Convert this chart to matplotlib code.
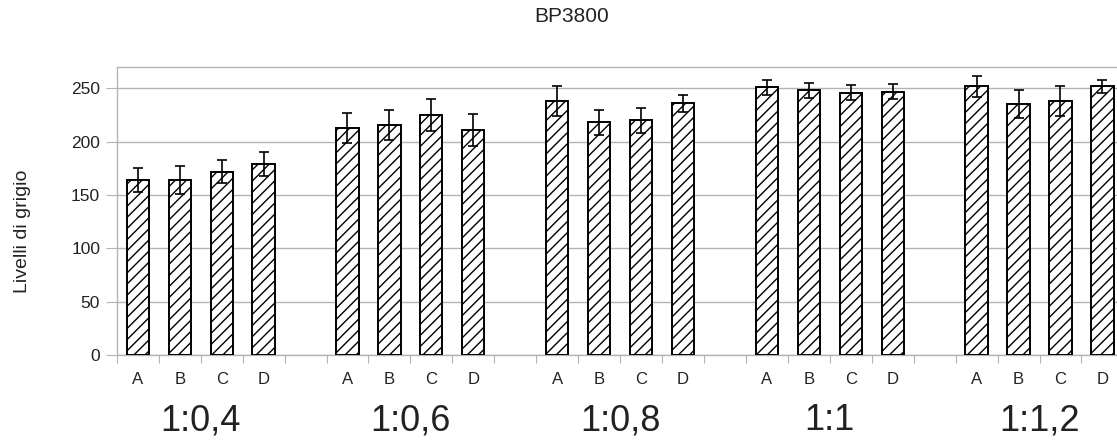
import matplotlib.pyplot as plt
import numpy as np

plt.rcParams["font.family"] = ["Liberation Sans", "DejaVu Sans"]
plt.rcParams["hatch.linewidth"] = 1.0

groups = ["1:0,4", "1:0,6", "1:0,8", "1:1", "1:1,2"]
letters = ["A", "B", "C", "D"]
means = [
    [164, 164, 172, 179],
    [213, 216, 225, 211],
    [238, 218, 220, 236],
    [251, 248, 246, 247],
    [252, 235, 238, 252],
]
errors = [
    [11, 13, 11, 11],
    [14, 14, 15, 15],
    [14, 12, 12, 8],
    [7, 7, 7, 7],
    [10, 13, 14, 6],
]

grid_col = "#b4b4b4"
text_col = "#222222"

fig = plt.figure(figsize=(11.17, 4.41), dpi=100)
W, H = 1117, 441
left, right, top, bottom = 116.8, 1123.4, 67, 355
ax = fig.add_axes([left / W, 1 - bottom / H, (right - left) / W, (bottom - top) / H])

# 4 bars per group plus one empty slot between groups
slot = 5
x = np.array([g * slot + j for g in range(len(groups)) for j in range(len(letters))])
y = np.array(means).ravel()
err = np.array(errors).ravel()

ax.bar(x, y, width=0.53, color="white", edgecolor="black", linewidth=1.4,
       hatch="///", zorder=3)
ax.errorbar(x, y, yerr=err, fmt="none", ecolor="black", elinewidth=1.2,
            capsize=3.5, capthick=1.2, zorder=4)

n_slots = len(groups) * slot - 1
ax.set_xlim(-0.5, n_slots - 0.5)
ax.set_ylim(0, 270)
ax.set_yticks(np.arange(0, 251, 50))
ax.yaxis.grid(True, color=grid_col, linewidth=1.0, zorder=0)
ax.tick_params(axis="y", length=8, color=grid_col, labelsize=12.5,
               labelcolor=text_col, pad=4)

ax.set_xticks(np.arange(-0.5, n_slots, 1))
ax.set_xticklabels([])
ax.set_xticks(x, minor=True)
ax.set_xticklabels(letters * len(groups), minor=True)
ax.tick_params(axis="x", which="major", length=6, color=grid_col, direction="out")
ax.tick_params(axis="x", which="minor", length=0, labelsize=12,
               labelcolor=text_col, pad=12)

for side in ["left", "bottom", "top", "right"]:
    ax.spines[side].set_color(grid_col)
    ax.spines[side].set_linewidth(1.0)

# group captions under the letters
for g, name in enumerate(groups):
    xc = g * slot + 1.5
    xf = (left + (xc + 0.5) * (right - left) / n_slots) / W
    fig.text(xf, 1 - 421 / H, name, ha="center", va="center",
             fontsize=26, color=text_col)

fig.text(22.5 / W, 1 - 231 / H, "Livelli di grigio", rotation=90,
         ha="center", va="center", fontsize=14, color=text_col)
fig.text(572 / W, 1 - 17 / H, "BP3800", ha="center", va="center",
         fontsize=15, color=text_col)

fig.savefig("out.png", dpi=100)
